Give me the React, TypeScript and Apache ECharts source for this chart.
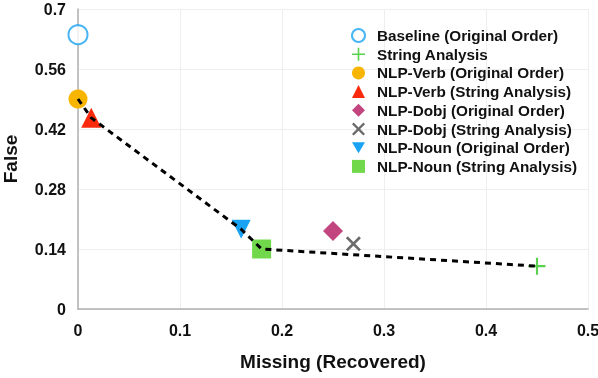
import React, { useEffect, useRef } from "react";
import * as echarts from "echarts";

const seriesNames = [
  "Baseline (Original Order)",
  "String Analysis",
  "NLP-Verb (Original Order)",
  "NLP-Verb (String Analysis)",
  "NLP-Dobj (Original Order)",
  "NLP-Dobj (String Analysis)",
  "NLP-Noun (Original Order)",
  "NLP-Noun (String Analysis)",
];
const missingValues = [0, 0.45, 0, 0.013, 0.25, 0.27, 0.16, 0.18];
const falseValues = [0.64, 0.1, 0.49, 0.446, 0.182, 0.152, 0.186, 0.14];
const frontierMissing = [0, 0.013, 0.16, 0.18, 0.45];
const frontierFalse = [0.49, 0.446, 0.186, 0.14, 0.1];
const yTicks = [0, 0.14, 0.28, 0.42, 0.56, 0.7];

const PLUS = "path://M7,0H9V16H7ZM0,7H16V9H0Z";
const CROSS = "path://M2,0L8,6L14,0L16,2L10,8L16,14L14,16L8,10L2,16L0,14L6,8L0,2Z";
const DOWN_TRI = "path://M0,0H20L10,17Z";

const styles = [
  { symbol: "emptyCircle", size: 19, color: "#1aa3f2", border: 2.2 },
  { symbol: PLUS, size: 17, color: "#5cd14f" },
  { symbol: "circle", size: 19, color: "#f7b500" },
  { symbol: "triangle", size: 20, color: "#fc2a0c" },
  { symbol: "diamond", size: 20, color: "#c2457f" },
  { symbol: CROSS, size: 15, color: "#6a6a6a" },
  { symbol: DOWN_TRI, size: 19, color: "#1aa3f2" },
  { symbol: "rect", size: 19, color: "#72d84b" },
];

export default function App() {
  const ref = useRef<HTMLDivElement>(null);
  useEffect(() => {
    const chart = echarts.init(ref.current!, undefined, { renderer: "svg" });
    const font = "Liberation Sans, Arial, sans-serif";
    const scatter = seriesNames.map((name, i) => {
      const s = styles[i];
      return {
        name,
        type: "scatter",
        symbol: s.symbol,
        symbolSize: s.size,
        itemStyle:
          s.symbol === "emptyCircle"
            ? { color: s.color, borderColor: s.color, borderWidth: s.border }
            : { color: s.color, opacity: 1 },
        data: [[missingValues[i], falseValues[i]]],
        z: 2,
      };
    });
    chart.setOption({
      animation: false,
      grid: { left: 78, right: 10, top: 9, bottom: 69, outerBoundsMode: "none", containLabel: false },
      legend: {
        orient: "vertical",
        left: 346,
        top: 23,
        itemWidth: 13,
        itemHeight: 13,
        itemGap: 3.7,
        textStyle: {
          fontFamily: font,
          fontWeight: "bold",
          fontSize: 15.3,
          color: "#111",
          padding: [0, 0, 0, 7],
        },
        data: seriesNames,
      },
      xAxis: {
        type: "value",
        min: 0,
        max: 0.5,
        interval: 0.1,
        name: "Missing (Recovered)",
        nameLocation: "middle",
        nameGap: 43,
        nameTextStyle: { fontFamily: font, fontWeight: "bold", fontSize: 19, color: "#111" },
        axisLine: { show: true, lineStyle: { color: "#b0b0b0", width: 1.5 } },
        axisTick: { show: false },
        axisLabel: { fontFamily: font, fontWeight: "bold", fontSize: 16, color: "#111", margin: 13 },
        splitLine: { show: true, lineStyle: { color: "#eeeeee" } },
      },
      yAxis: {
        type: "value",
        min: 0,
        max: 0.7,
        interval: 0.14,
        name: "False",
        nameLocation: "middle",
        nameGap: 58,
        nameTextStyle: { fontFamily: font, fontWeight: "bold", fontSize: 19, color: "#111" },
        axisLine: { show: true, lineStyle: { color: "#b0b0b0", width: 1.5 } },
        axisTick: { show: false },
        axisLabel: {
          fontFamily: font,
          fontWeight: "bold",
          fontSize: 16,
          color: "#111",
          margin: 12,
          formatter: (v: number) => {
            const t = yTicks.find((k) => Math.abs(k - v) < 1e-6);
            return String(t !== undefined ? t : v);
          },
        },
        splitLine: { show: true, lineStyle: { color: "#eeeeee" } },
      },
      series: [
        ...scatter,
        {
          name: "frontier",
          type: "line",
          data: frontierMissing.map((x, i) => [x, frontierFalse[i]]),
          symbol: "none",
          lineStyle: { color: "#000", width: 3, type: [6, 5] },
          z: 3,
          silent: true,
        },
      ],
    });
    return () => chart.dispose();
  }, []);
  return (
    <div style={{ position: "fixed", left: 0, top: 0 }}>
      <div ref={ref} style={{ width: 598, height: 378 }} />
    </div>
  );
}
